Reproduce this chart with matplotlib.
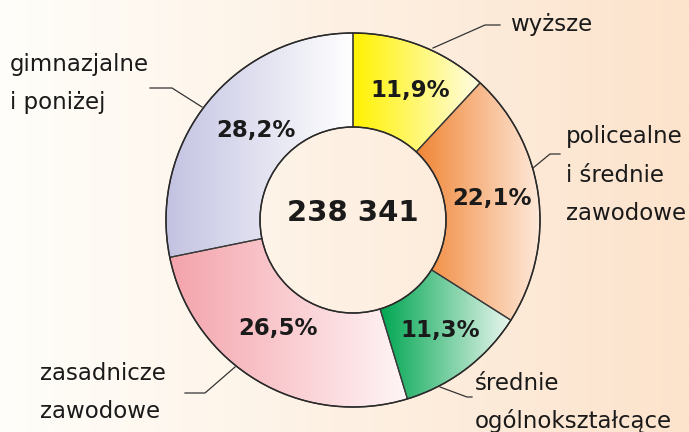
import numpy as np
import matplotlib.pyplot as plt
from matplotlib.colors import LinearSegmentedColormap

# data
categories = ["wyższe", "policealne\ni średnie\nzawodowe", "średnie\nogólnokształcące",
              "zasadnicze\nzawodowe", "gimnazjalne\ni poniżej"]
shares = [11.9, 22.1, 11.3, 26.5, 28.2]
share_labels = ["11,9%", "22,1%", "11,3%", "26,5%", "28,2%"]
total_label = "238 341"
start_colors = ["#fff200", "#f08535", "#00a651", "#f4a3ab", "#c3c3e2"]
end_colors = ["#fffde6", "#fee9da", "#eaf6ef", "#fff6f7", "#ffffff"]

W, H = 689, 432
cx, cy = 353, H - 220
r_out, ring = 187, 94

fig = plt.figure(figsize=(W / 100, H / 100), dpi=100)
ax = fig.add_axes([0, 0, 1, 1])

# background gradient, white-ish on the left to peach on the right
bg = LinearSegmentedColormap.from_list("bg", ["#fffefa", "#fce3cc"])
ax.imshow(np.linspace(0, 1, 256)[None, :], cmap=bg, extent=(0, W, 0, H),
          aspect="auto", zorder=0)

wedges, _ = ax.pie(shares, center=(cx, cy), radius=r_out, startangle=90,
                   counterclock=False,
                   wedgeprops=dict(width=ring, edgecolor="#3a3a3a", linewidth=0.9))

for w, c0, c1 in zip(wedges, start_colors, end_colors):
    w.set_facecolor("none")
    w.set_zorder(3)
    ext = w.get_path().get_extents()
    cm = LinearSegmentedColormap.from_list("g", [c0, c1])
    im = ax.imshow(np.linspace(0, 1, 256)[None, :], cmap=cm,
                   extent=(ext.x0, ext.x1, ext.y0, ext.y1), aspect="auto", zorder=2)
    im.set_clip_path(w)

# outer and inner rim a bit darker
ax.add_patch(plt.Circle((cx, cy), r_out, fill=False, ec="#2a2a2a", lw=1.1, zorder=4))
ax.add_patch(plt.Circle((cx, cy), r_out - ring, fill=False, ec="#2a2a2a", lw=1.1, zorder=4))

# percentage labels inside the ring
pct_pos = [(410, 90), (492, 198), (440, 331), (278, 328), (256, 130)]
for (px, py), lab in zip(pct_pos, share_labels):
    ax.text(px, H - py, lab, fontsize=16.5, fontweight="bold", color="#1a1a1a",
            ha="center", va="center", zorder=5)

ax.text(cx, H - 213, total_label, fontsize=21, fontweight="bold", color="#1a1a1a",
        ha="center", va="center", zorder=5)

# category labels with leader lines
label_pos = [(510, 25), (566, 137), (475, 383), (40, 373), (10, 65)]
leaders = [
    [(433, 48), (485, 25), (500, 25)],
    [(533, 168), (550, 154), (560, 154)],
    [(440, 387), (467, 397), (472, 397)],
    [(235, 367), (205, 393), (185, 393)],
    [(202, 107), (172, 88), (150, 88)],
]
step = 38
for (lx, ly), name, pts in zip(label_pos, categories, leaders):
    for i, line in enumerate(name.split("\n")):
        ax.text(lx, H - (ly + i * step), line, fontsize=16.5, color="#1a1a1a",
                ha="left", va="center", zorder=5)
    xs = [p[0] for p in pts]
    ys = [H - p[1] for p in pts]
    ax.plot(xs, ys, color="#333333", lw=0.9, zorder=5)

ax.set_xlim(0, W)
ax.set_ylim(0, H)
ax.set_aspect("equal")
ax.axis("off")

fig.savefig("out.png", dpi=100)
